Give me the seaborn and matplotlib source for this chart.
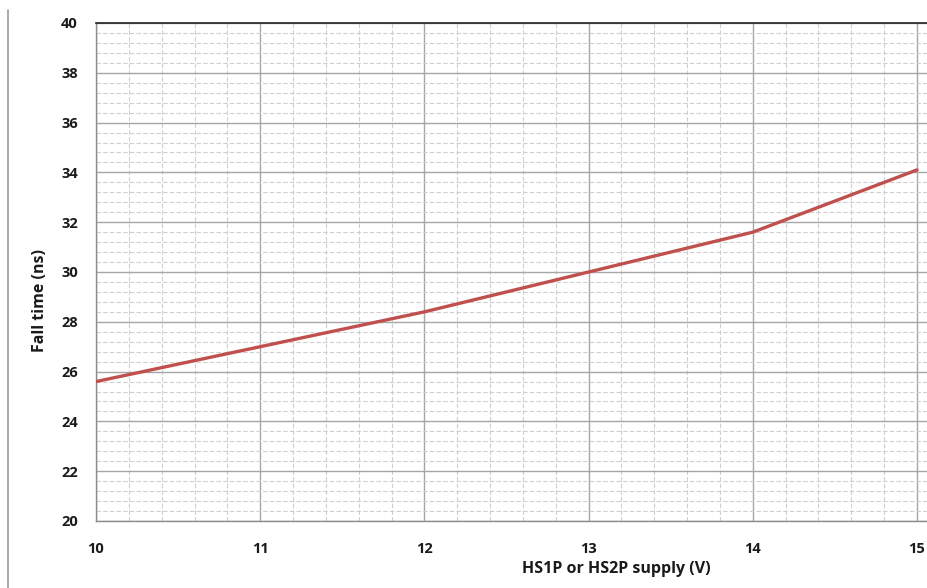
import matplotlib
matplotlib.use("Agg")
import matplotlib.pyplot as plt
from matplotlib.lines import Line2D
from matplotlib.ticker import MultipleLocator
import seaborn as sns
import pandas as pd

supply_v = [10, 11, 12, 13, 14, 15]
fall_time_ns = [25.6, 27.0, 28.4, 30.0, 31.6, 34.1]
x_ticks = [10, 11, 12, 13, 14, 15]
y_ticks = [20, 22, 24, 26, 28, 30, 32, 34, 36, 38, 40]

sns.set_theme(style="white")
plt.rcParams['font.family'] = ['Open Sans', 'DejaVu Sans']

df = pd.DataFrame({"supply": supply_v, "fall": fall_time_ns})

W, H = 928, 588
fig = plt.figure(figsize=(W / 100, H / 100), dpi=100)
left, right, top, bottom = 96, 928, 23, 521
ax = fig.add_axes([left / W, 1 - bottom / H, (right - left) / W, (bottom - top) / H])

sns.lineplot(data=df, x="supply", y="fall", ax=ax, color="#C0504D", linewidth=2.4, zorder=5)

ax.set_xlim(10, 10 + 5 * (right - left) / (917 - 96))
ax.set_ylim(20, 40)
ax.set_xticks(x_ticks)
ax.set_yticks(y_ticks)
ax.xaxis.set_minor_locator(MultipleLocator(0.2))
ax.yaxis.set_minor_locator(MultipleLocator(0.4))
ax.grid(which="major", color="#a6a6a6", linewidth=1.0, linestyle="-")
ax.grid(which="minor", color="#cfcfcf", linewidth=0.8, linestyle=(0, (4, 2)))
ax.set_axisbelow(True)

ax.spines["right"].set_visible(False)
ax.spines["top"].set_color("#222222")
ax.spines["top"].set_linewidth(1.2)
ax.spines["left"].set_color("#8c8c8c")
ax.spines["bottom"].set_color("#8c8c8c")
ax.spines["left"].set_linewidth(1.0)
ax.spines["bottom"].set_linewidth(1.0)

ax.tick_params(axis="both", which="major", length=5, width=1, color="#8c8c8c",
               direction="out", labelsize=10.5, pad=8)
ax.tick_params(axis="both", which="minor", length=0)
ax.tick_params(axis="x", pad=10)
for lab in ax.get_xticklabels() + ax.get_yticklabels():
    lab.set_fontweight("bold")
    lab.set_color("#1a1a1a")

ax.set_xlabel("")
ax.set_ylabel("")
fig.text(616 / W, 1 - 569 / H, "HS1P or HS2P supply (V)", ha="center", va="center",
         fontsize=11.5, fontweight="bold", color="#1a1a1a")
fig.text(40 / W, 1 - 300 / H, "Fall time (ns)", ha="center", va="center", rotation=90,
         fontsize=11.5, fontweight="bold", color="#1a1a1a")

fig.add_artist(Line2D([8 / W, 8 / W], [1 - 10 / H, 0], color="#9a9a9a", linewidth=1.2))

fig.savefig("out.png", dpi=100, facecolor="white")
